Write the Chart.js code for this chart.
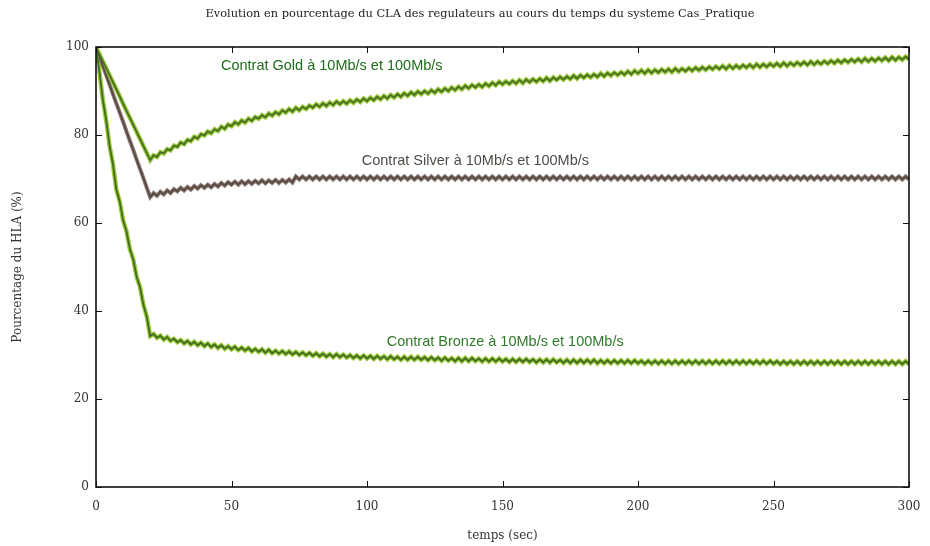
<!DOCTYPE html>
<html>
<head>
<meta charset="utf-8">
<title>Evolution du CLA</title>
<script src="https://cdn.jsdelivr.net/npm/chart.js@4/dist/chart.umd.min.js"></script>
<style>
  html, body { margin: 0; padding: 0; background: #fff; }
  #wrap { width: 930px; height: 546px; }
</style>
</head>
<body>
<div id="wrap"><canvas id="cla" width="930" height="546"></canvas></div>
<script>
// Sampling grid (seconds), one point every 1.25 s from 0 to 300
const timeStep = 1.25;
const times = Array.from({ length: 241 }, (_, i) => i * timeStep);

const xTicks = [0, 50, 100, 150, 200, 250, 300];
const yTicks = [0, 20, 40, 60, 80, 100];

// Contrat Gold (% of HLA)
const goldValues = [
  100, 98.4, 96.8, 95.2, 93.6, 92.0, 90.4, 88.8, 87.1, 85.5, 83.9, 82.3, 80.7, 79.1, 77.5, 75.9, 74.3,
  75.4, 75.0, 76.1, 75.8, 76.8, 76.5, 77.6, 77.3,
  78.3, 77.9, 78.9, 78.6, 79.6, 79.2, 80.2, 79.9,
  80.8, 80.4, 81.3, 80.9, 81.9, 81.4, 82.4, 82.0,
  82.9, 82.4, 83.3, 82.8, 83.7, 83.2, 84.1, 83.7,
  84.5, 84.0, 84.9, 84.4, 85.2, 84.7, 85.6, 85.1,
  85.9, 85.3, 86.2, 85.6, 86.4, 85.9, 86.7, 86.2,
  87.0, 86.4, 87.2, 86.6, 87.4, 86.8, 87.6, 87.0,
  87.7, 87.1, 87.9, 87.3, 88.1, 87.5, 88.3, 87.7,
  88.5, 87.9, 88.7, 88.1, 88.9, 88.3, 89.1, 88.5,
  89.3, 88.7, 89.5, 88.9, 89.7, 89.1, 89.9, 89.3,
  90.0, 89.4, 90.2, 89.6, 90.4, 89.8, 90.6, 90.0,
  90.8, 90.2, 91.0, 90.4, 91.2, 90.6, 91.4, 90.8,
  91.5, 90.9, 91.7, 91.1, 91.9, 91.3, 92.1, 91.5,
  92.2, 91.6, 92.3, 91.7, 92.5, 91.8, 92.6, 92.0,
  92.7, 92.1, 92.8, 92.2, 93.0, 92.3, 93.1, 92.5,
  93.2, 92.6, 93.3, 92.7, 93.5, 92.8, 93.6, 93.0,
  93.7, 93.1, 93.8, 93.2, 94.0, 93.3, 94.1, 93.5,
  94.2, 93.6, 94.3, 93.7, 94.5, 93.8, 94.6, 94.0,
  94.7, 94.0, 94.8, 94.1, 94.8, 94.2, 94.9, 94.3,
  95.0, 94.3, 95.1, 94.4, 95.1, 94.5, 95.2, 94.6,
  95.3, 94.7, 95.4, 94.8, 95.5, 94.9, 95.6, 95.0,
  95.7, 95.0, 95.8, 95.1, 95.8, 95.2, 95.9, 95.3,
  96.0, 95.3, 96.1, 95.4, 96.1, 95.5, 96.2, 95.6,
  96.3, 95.6, 96.4, 95.7, 96.4, 95.8, 96.5, 95.9,
  96.6, 95.9, 96.7, 96.0, 96.7, 96.1, 96.8, 96.2,
  96.9, 96.3, 97.0, 96.4, 97.1, 96.5, 97.2, 96.6,
  97.3, 96.6, 97.4, 96.7, 97.4, 96.8, 97.5, 96.9,
  97.6, 96.9, 97.7, 97.0, 97.7, 97.1, 97.8, 97.2
];

// Contrat Silver
const silverValues = [
  100, 97.9, 95.7, 93.6, 91.5, 89.3, 87.2, 85.1, 83.0, 80.8, 78.7, 76.6, 74.4, 72.3, 70.2, 68.0, 65.9,
  66.8, 66.2, 67.1, 66.5, 67.4, 66.8, 67.7, 67.2,
  68.0, 67.4, 68.2, 67.6, 68.4, 67.8, 68.6, 68.0,
  68.7, 68.1, 68.9, 68.3, 69.1, 68.5, 69.3, 68.7,
  69.4, 68.7, 69.5, 68.8, 69.5, 68.9, 69.6, 69.0,
  69.7, 69.0, 69.7, 69.1, 69.8, 69.1, 69.8, 69.2,
  69.9, 69.2,
  70.6, 69.9, 70.6, 69.9, 70.6, 69.9, 70.6, 69.9,
  70.6, 69.9, 70.6, 69.9, 70.6, 69.9, 70.6, 69.9,
  70.6, 69.9, 70.6, 69.9, 70.6, 69.9, 70.6, 69.9,
  70.6, 69.9, 70.6, 69.9, 70.6, 69.9, 70.6, 69.9,
  70.6, 69.9, 70.6, 69.9, 70.6, 69.9, 70.6, 69.9,
  70.6, 69.9, 70.6, 69.9, 70.6, 69.9, 70.6, 69.9,
  70.6, 69.9, 70.6, 69.9, 70.6, 69.9, 70.6, 69.9,
  70.6, 69.9, 70.6, 69.9, 70.6, 69.9, 70.6, 69.9,
  70.6, 69.9, 70.6, 69.9, 70.6, 69.9, 70.6, 69.9,
  70.6, 69.9, 70.6, 69.9, 70.6, 69.9, 70.6, 69.9,
  70.6, 69.9, 70.6, 69.9, 70.6, 69.9, 70.6, 69.9,
  70.6, 69.9, 70.6, 69.9, 70.6, 69.9, 70.6, 69.9,
  70.6, 69.9, 70.6, 69.9, 70.6, 69.9, 70.6, 69.9,
  70.6, 69.9, 70.6, 69.9, 70.6, 69.9, 70.6, 69.9,
  70.6, 69.9, 70.6, 69.9, 70.6, 69.9, 70.6, 69.9,
  70.6, 69.9, 70.6, 69.9, 70.6, 69.9, 70.6, 69.9,
  70.6, 69.9, 70.6, 69.9, 70.6, 69.9, 70.6, 69.9,
  70.6, 69.9, 70.6, 69.9, 70.6, 69.9, 70.6, 69.9,
  70.6, 69.9, 70.6, 69.9, 70.6, 69.9, 70.6, 69.9,
  70.6, 69.9, 70.6, 69.9, 70.6, 69.9, 70.6, 69.9,
  70.6, 69.9, 70.6, 69.9, 70.6, 69.9, 70.6, 69.9,
  70.6, 69.9, 70.6, 69.9, 70.6, 69.9, 70.6, 69.9,
  70.6, 69.9, 70.6, 69.9, 70.6, 69.9
];

// Contrat Bronze
const bronzeValues = [
  100, 94.4, 88.1, 83.4, 77.6, 73.4, 67.6, 64.9, 60.6, 58.1, 54.1, 51.7, 47.8, 45.4, 41.4, 38.7, 34.3,
  34.8, 33.9, 34.4, 33.5, 34.1, 33.2, 33.7, 32.9,
  33.4, 32.6, 33.2, 32.4, 33.0, 32.2, 32.8, 32.0,
  32.6, 31.8, 32.4, 31.6, 32.2, 31.4, 32.0, 31.3,
  31.9, 31.1, 31.7, 31.0, 31.6, 30.8, 31.4, 30.7,
  31.3, 30.5, 31.2, 30.4, 31.0, 30.3, 30.9, 30.2,
  30.8, 30.1, 30.7, 30.0, 30.6, 29.9, 30.5, 29.8,
  30.4, 29.7, 30.3, 29.6, 30.2, 29.5, 30.2, 29.5,
  30.1, 29.4, 30.0, 29.3, 29.9, 29.2, 29.9, 29.2,
  29.8, 29.1, 29.8, 29.1, 29.7, 29.0, 29.7, 29.0,
  29.6, 28.9, 29.6, 28.9, 29.6, 28.9, 29.6, 28.9,
  29.5, 28.8, 29.5, 28.8, 29.4, 28.7, 29.4, 28.7,
  29.3, 28.6, 29.3, 28.6, 29.3, 28.6, 29.3, 28.6,
  29.2, 28.5, 29.2, 28.5, 29.2, 28.5, 29.2, 28.5,
  29.1, 28.4, 29.1, 28.4, 29.1, 28.4, 29.1, 28.4,
  29.0, 28.3, 29.0, 28.3, 29.0, 28.3, 29.0, 28.3,
  28.9, 28.2, 28.9, 28.2, 28.9, 28.2, 28.9, 28.2,
  28.9, 28.2, 28.9, 28.1, 28.8, 28.1, 28.8, 28.1,
  28.8, 28.1, 28.8, 28.1, 28.8, 28.1, 28.8, 28.1,
  28.7, 28.0, 28.7, 28.0, 28.7, 28.0, 28.7, 28.0,
  28.7, 28.0, 28.7, 28.0, 28.7, 28.0, 28.7, 28.0,
  28.7, 28.0, 28.7, 28.0, 28.7, 28.0, 28.7, 28.0,
  28.7, 28.0, 28.7, 28.0, 28.7, 28.0, 28.7, 28.0,
  28.7, 28.0, 28.7, 28.0, 28.7, 28.0, 28.7, 28.0,
  28.6, 27.9, 28.6, 27.9, 28.6, 27.9, 28.6, 27.9,
  28.6, 27.9, 28.6, 27.9, 28.6, 27.9, 28.6, 27.9,
  28.6, 27.9, 28.6, 27.9, 28.6, 27.9, 28.6, 27.9,
  28.6, 27.9, 28.6, 27.9, 28.6, 27.9, 28.6, 27.9,
  28.6, 27.9, 28.6, 27.9, 28.6, 27.9, 28.6, 27.9
];

const chartTitle = 'Evolution en pourcentage du CLA des regulateurs au cours du temps du systeme Cas_Pratique';

// In-plot curve labels (text, anchor in data units, colour)
const curveLabels = [
  { text: 'Contrat Gold à 10Mb/s et 100Mb/s', t: 87, v: 95.7, color: '#1f6a1c' },
  { text: 'Contrat Silver à 10Mb/s et 100Mb/s', t: 140, v: 74.1, color: '#4d4d45' },
  { text: 'Contrat Bronze à 10Mb/s et 100Mb/s', t: 151, v: 32.9, color: '#2f7a2a' }
];

const SERIF = '"DejaVu Serif", "Liberation Serif", serif';
const SANS = '"Liberation Sans", Arial, sans-serif';

/**
 * Draws the closed frame, inward tick marks on all four sides, the title and curve labels
 */
const framePlugin = {
    id: 'gnuFrame',
    afterDatasetsDraw(chart) {
        const { ctx, chartArea: a, scales: { x, y } } = chart;
        ctx.save();
        ctx.strokeStyle = '#111';
        ctx.lineWidth = 1;
        ctx.beginPath();
        xTicks.forEach(t => {
            const px = Math.round(x.getPixelForValue(t)) + 0.5;
            ctx.moveTo(px, a.bottom); ctx.lineTo(px, a.bottom - 6);
            ctx.moveTo(px, a.top); ctx.lineTo(px, a.top + 6);
        });
        yTicks.forEach(t => {
            const py = Math.round(y.getPixelForValue(t)) + 0.5;
            ctx.moveTo(a.left, py); ctx.lineTo(a.left + 6, py);
            ctx.moveTo(a.right, py); ctx.lineTo(a.right - 6, py);
        });
        ctx.stroke();

        ctx.lineWidth = 1.6;
        ctx.strokeRect(a.left, a.top, a.right - a.left, a.bottom - a.top);

        ctx.textAlign = 'center';
        ctx.textBaseline = 'middle';

        // title, centred a little right of the canvas middle as in the original
        ctx.font = '11.4px ' + SERIF;
        ctx.fillStyle = '#222';
        ctx.fillText(chartTitle, 480, 14);

        ctx.font = '14.5px ' + SANS;
        curveLabels.forEach(l => {
            ctx.fillStyle = l.color;
            ctx.fillText(l.text, x.getPixelForValue(l.t), y.getPixelForValue(l.v));
        });
        ctx.restore();
    }
};

function lineSet(label, data, color, width, order) {
    return {
        label: label,
        data: data,
        borderColor: color,
        borderWidth: width,
        pointRadius: 0,
        tension: 0,
        fill: false,
        order: order
    };
}

new Chart(document.getElementById('cla').getContext('2d'), {
    type: 'line',
    data: {
        labels: times,
        datasets: [
            lineSet('Gold 10Mb/s', goldValues, '#9cc83c', 4.4, 2),
            lineSet('Gold 100Mb/s', goldValues, '#466f22', 1.8, 1),
            lineSet('Silver 10Mb/s', silverValues, '#8d7d76', 4, 2),
            lineSet('Silver 100Mb/s', silverValues, '#5a4843', 1.8, 1),
            lineSet('Bronze 10Mb/s', bronzeValues, '#9cc83c', 4.4, 2),
            lineSet('Bronze 100Mb/s', bronzeValues, '#3f6b20', 1.8, 1)
        ]
    },
    options: {
        responsive: false,
        animation: false,
        layout: { padding: { left: 0, right: 21, top: 47, bottom: 0 } },
        plugins: {
            legend: { display: false },
            tooltip: { enabled: false },
            title: { display: false }
        },
        scales: {
            x: {
                type: 'linear',
                min: 0,
                max: 300,
                afterFit: scale => {
                    scale.height = 59;
                    scale.paddingLeft = 0;
                    scale.paddingRight = 0;
                },
                afterBuildTicks: scale => { scale.ticks = xTicks.map(v => ({ value: v })); },
                grid: { display: false, drawTicks: false },
                border: { display: false },
                ticks: {
                    padding: 13,
                    color: '#333',
                    font: { family: SERIF, size: 12 }
                },
                title: {
                    display: true,
                    text: 'temps (sec)',
                    color: '#333',
                    font: { family: SERIF, size: 12 },
                    padding: { top: 0, bottom: 3 }
                }
            },
            y: {
                type: 'linear',
                min: 0,
                max: 100,
                afterFit: scale => {
                    scale.width = 96;
                    scale.paddingTop = 0;
                    scale.paddingBottom = 0;
                },
                afterBuildTicks: scale => { scale.ticks = yTicks.map(v => ({ value: v })); },
                grid: { display: false, drawTicks: false },
                border: { display: false },
                ticks: {
                    padding: 7,
                    color: '#333',
                    font: { family: SERIF, size: 12 }
                },
                title: {
                    display: true,
                    text: 'Pourcentage du HLA (%)',
                    color: '#333',
                    font: { family: SERIF, size: 12 },
                    padding: { top: 11, bottom: 0 }
                }
            }
        }
    },
    plugins: [framePlugin]
});
</script>
</body>
</html>
